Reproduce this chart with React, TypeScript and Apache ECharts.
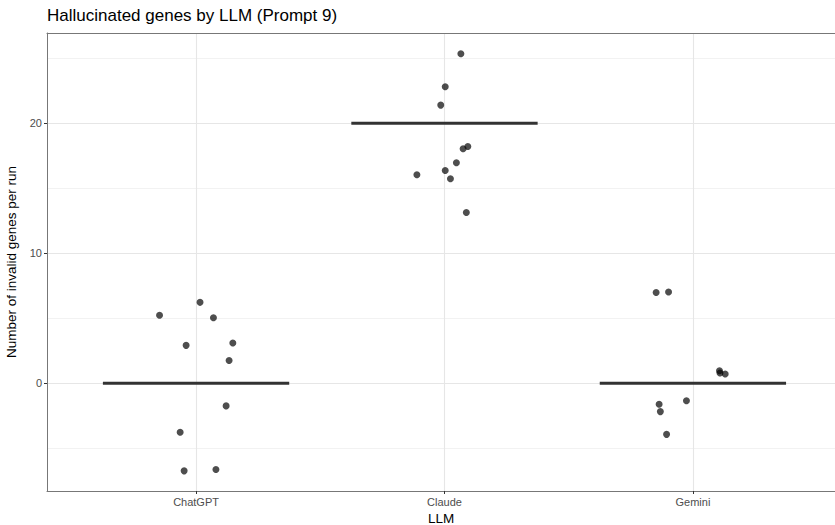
import React, { useEffect, useRef } from "react";
import * as echarts from "echarts";

const categories = ["ChatGPT", "Claude", "Gemini"];
const medianValues = [0, 20, 0];

const chatgptJitter = [-0.147, 0.016, 0.07, -0.04, 0.148, 0.133, 0.121, -0.064, -0.048, 0.08];
const chatgptValues = [5.22, 6.22, 5.04, 2.91, 3.09, 1.75, -1.75, -3.78, -6.75, -6.65];

const claudeJitter = [0.066, 0.003, -0.015, 0.094, 0.075, 0.048, 0.003, -0.111, 0.024, 0.088];
const claudeValues = [25.35, 22.81, 21.4, 18.22, 18.04, 16.96, 16.37, 16.04, 15.73, 13.14];

const geminiJitter = [-0.148, -0.098, 0.107, 0.109, 0.13, -0.136, -0.131, -0.026, -0.106];
const geminiValues = [6.98, 7.02, 0.96, 0.78, 0.71, -1.63, -2.19, -1.35, -3.94];

const yTickValues = [0, 10, 20];
const yMinorValues = [-5, 5, 15, 25];

const FONT = "Liberation Sans, Arial, Helvetica, sans-serif";

export default function App() {
  const ref = useRef<HTMLDivElement>(null);

  useEffect(() => {
    if (!ref.current) return;
    const chart = echarts.init(ref.current, undefined, { renderer: "svg" });

    const groups = [
      { jitter: chatgptJitter, values: chatgptValues },
      { jitter: claudeJitter, values: claudeValues },
      { jitter: geminiJitter, values: geminiValues },
    ];
    const points: number[][] = [];
    groups.forEach((g, i) => {
      g.values.forEach((v, j) => points.push([i + 1 + g.jitter[j], v]));
    });

    const medianSeries = medianValues.map((m, i) => ({
      type: "line" as const,
      data: [
        [i + 1 - 0.375, m],
        [i + 1 + 0.375, m],
      ],
      symbol: "none",
      lineStyle: { color: "#333333", width: 3, type: "solid" },
      silent: true,
      z: 6,
    }));

    const gridLineData: any[] = [
      ...yMinorValues.map((v) => ({ yAxis: v, lineStyle: { color: "#f2f2f2", width: 1, type: "solid" } })),
      ...yTickValues.map((v) => ({ yAxis: v, lineStyle: { color: "#e6e6e6", width: 1.1, type: "solid" } })),
      ...categories.map((_, i) => ({ xAxis: i + 1, lineStyle: { color: "#e6e6e6", width: 1.1, type: "solid" } })),
    ];

    chart.setOption({
      animation: false,
      backgroundColor: "#ffffff",
      title: {
        text: "Hallucinated genes by LLM (Prompt 9)",
        left: 47,
        top: 7,
        padding: 0,
        textStyle: { fontSize: 17, fontWeight: "normal", color: "#000000", fontFamily: FONT },
      },
      grid: { left: 47, right: 0, top: 33, bottom: 34, outerBoundsMode: "none", containLabel: false },
      xAxis: [
        {
          type: "value",
          min: 0.4,
          max: 3.572,
          name: "LLM",
          nameLocation: "middle",
          nameGap: 15,
          nameTextStyle: { fontSize: 13.5, color: "#000000", fontFamily: FONT },
          axisLine: { show: true, onZero: false, lineStyle: { color: "#777777", width: 1 } },
          axisTick: { show: true, length: 3, customValues: [1, 2, 3], lineStyle: { color: "#333333" } },
          axisLabel: {
            customValues: [1, 2, 3],
            formatter: (v: number) => categories[Math.round(v) - 1] ?? "",
            fontSize: 11,
            color: "#4d4d4d",
            margin: 5,
            fontFamily: FONT,
          },
          splitLine: { show: false },
        },
        {
          type: "value",
          position: "top",
          min: 0.4,
          max: 3.572,
          axisLine: { show: true, onZero: false, lineStyle: { color: "#777777", width: 1 } },
          axisTick: { show: false },
          axisLabel: { show: false },
          splitLine: { show: false },
        },
      ],
      yAxis: {
        type: "value",
        min: -8.3,
        max: 26.95,
        name: "Number of invalid genes per run",
        nameLocation: "middle",
        nameGap: 24,
        nameRotate: 90,
        nameTextStyle: { fontSize: 13.5, color: "#000000", fontFamily: FONT },
        axisLine: { show: true, onZero: false, lineStyle: { color: "#777777", width: 1 } },
        axisTick: { show: true, length: 3, customValues: yTickValues, lineStyle: { color: "#333333" } },
        axisLabel: {
          customValues: yTickValues,
          fontSize: 11,
          color: "#4d4d4d",
          margin: 5,
          fontFamily: FONT,
        },
        splitLine: { show: false },
      },
      series: [
        {
          type: "scatter",
          data: [],
          silent: true,
          z: 0,
          markLine: {
            silent: true,
            z: 0,
            symbol: ["none", "none"],
            label: { show: false },
            emphasis: { disabled: true },
            animation: false,
            data: gridLineData,
          },
        },
        ...medianSeries,
        {
          type: "scatter",
          data: points,
          symbol: "circle",
          symbolSize: 7,
          itemStyle: { color: "rgba(0,0,0,0.87)" },
          z: 7,
        },
      ],
    });

    return () => chart.dispose();
  }, []);

  return (
    <div
      ref={ref}
      style={{ position: "fixed", left: 0, top: 0, width: 835, height: 525 }}
    />
  );
}
